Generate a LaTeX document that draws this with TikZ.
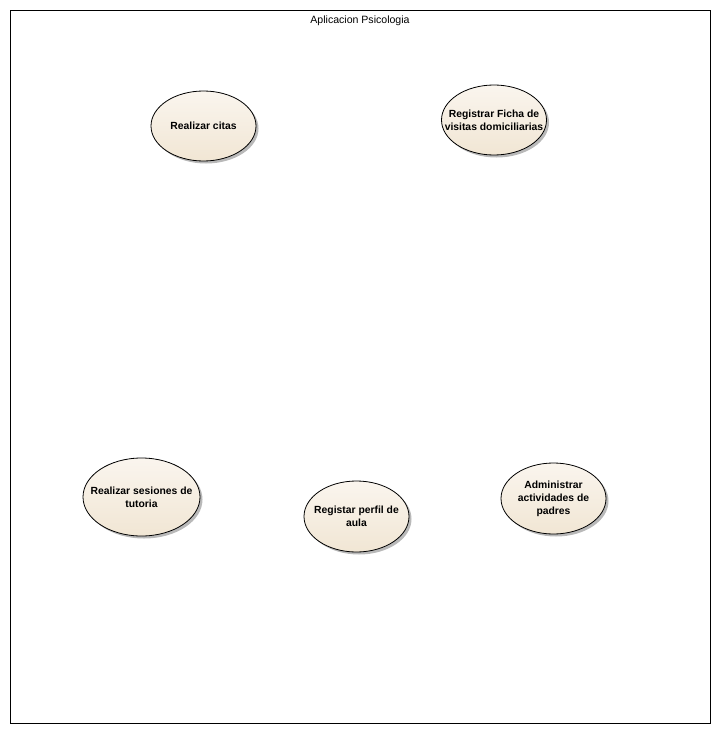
\documentclass[tikz,border=0pt]{standalone}
\usepackage{fontspec}
\setmainfont{Liberation Sans}
\usetikzlibrary{shapes.geometric,shadows}
\definecolor{ucfill}{HTML}{F1E6D4}
\definecolor{ucfilllight}{HTML}{FAF5EE}
\definecolor{ucshadow}{HTML}{8A8A8A}
\tikzset{
  usecase/.style={ellipse, draw=black, line width=0.8bp, inner sep=0pt,
    top color=ucfilllight, bottom color=ucfill,
    drop shadow={shadow xshift=2.5bp, shadow yshift=-2.5bp, fill=ucshadow, opacity=0.6}},
  uctext/.style={font=\fontsize{10.4}{13}\selectfont\bfseries, align=center, inner sep=0pt},
  framebox/.style={draw=black, line width=0.9bp},
  titletext/.style={font=\fontsize{10.6}{12}\selectfont}
}
\begin{document}
\begin{tikzpicture}[x=1bp,y=-1bp]
\useasboundingbox (0,0) rectangle (720,734);
\draw[framebox] (10.5,10.5) rectangle (710.5,723.5);
\node[titletext] (title) at (360,20.5) {Aplicacion Psicologia};
\node[usecase, minimum width=105bp, minimum height=70bp] (citas) at (203.5,126) {};
\node[uctext] (citast) at (citas.center) {Realizar citas};
\node[usecase, minimum width=105bp, minimum height=70bp] (ficha) at (494,120) {};
\node[uctext] (fichat) at (ficha.center) {Registrar Ficha de\\visitas domiciliarias};
\node[usecase, minimum width=117bp, minimum height=78bp] (tutoria) at (141.5,497) {};
\node[uctext] (tutoriat) at (tutoria.center) {Realizar sesiones de\\tutoria};
\node[usecase, minimum width=105bp, minimum height=71bp] (perfil) at (356.5,516.5) {};
\node[uctext] (perfilt) at (perfil.center) {Registar perfil de\\aula};
\node[usecase, minimum width=105bp, minimum height=71bp] (padres) at (553.5,498.5) {};
\node[uctext] (padrest) at (padres.center) {Administrar\\actividades de\\padres};
\end{tikzpicture}
\end{document}
